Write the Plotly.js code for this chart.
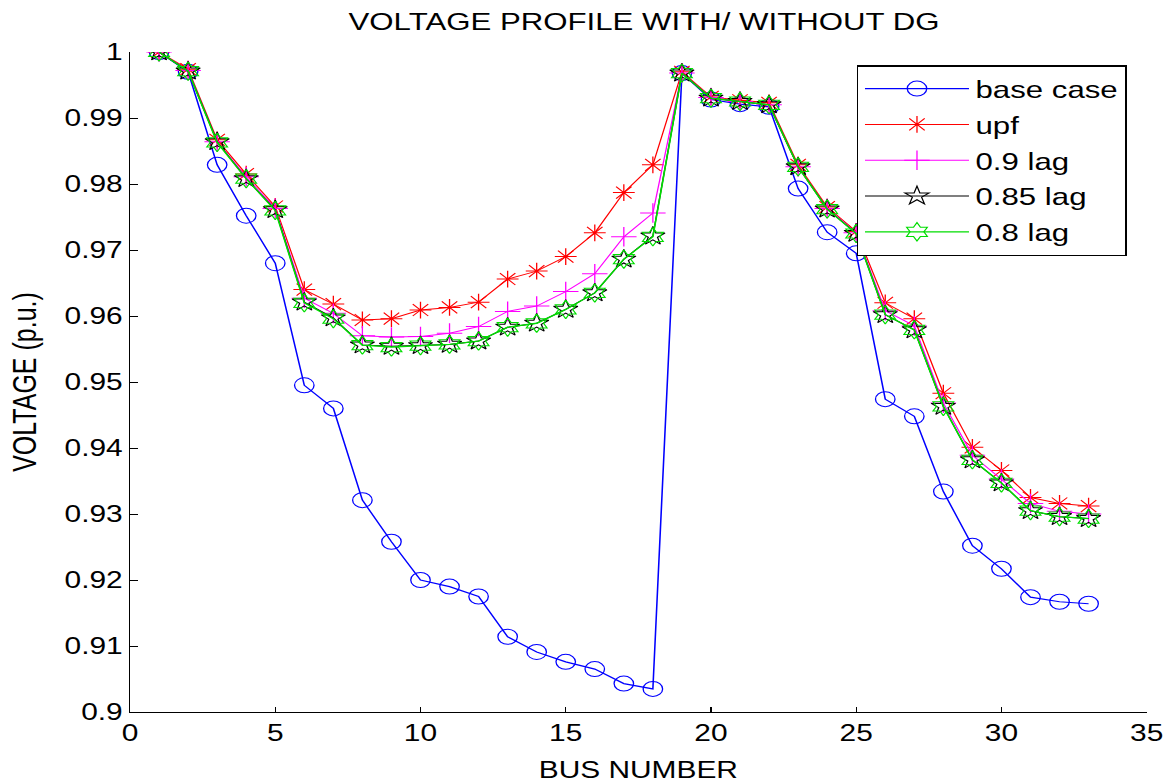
<!DOCTYPE html>
<html>
<head>
<meta charset="utf-8">
<script src="https://cdn.plot.ly/plotly-3.0.1.min.js"></script>
<style>
  html, body { margin: 0; padding: 0; background: #ffffff; overflow: hidden; }
  #wrap { width: 1174px; height: 784px; overflow: hidden; }
  #plot { width: 903px; height: 784px; transform: scaleX(1.3001); transform-origin: 0 0; }
</style>
</head>
<body>
<div id="wrap"><div id="plot"></div></div>
<script>
// ---- data ----
var busNumbers = [1,2,3,4,5,6,7,8,9,10,11,12,13,14,15,16,17,18,19,20,21,22,23,24,25,26,27,28,29,30,31,32,33];

var baseCase = [1.0000, 0.9970, 0.9829, 0.9752, 0.9680, 0.9495, 0.9460, 0.9321, 0.9258, 0.9200, 0.9190,
                0.9175, 0.9114, 0.9091, 0.9076, 0.9065, 0.9043, 0.9035, 0.9968, 0.9928, 0.9921, 0.9917,
                0.9793, 0.9727, 0.9695, 0.9474, 0.9448, 0.9334, 0.9252, 0.9217, 0.9174, 0.9167, 0.9164];

var upf = [1.0000, 0.9974, 0.9867, 0.9815, 0.9766, 0.9640, 0.9618, 0.9594, 0.9596, 0.9609, 0.9613,
           0.9621, 0.9656, 0.9668, 0.9690, 0.9726, 0.9787, 0.9829, 0.9970, 0.9932, 0.9927, 0.9923,
           0.9829, 0.9765, 0.9728, 0.9620, 0.9596, 0.9483, 0.9401, 0.9366, 0.9325, 0.9316, 0.9312];

var lag090 = [1.0000, 0.9972, 0.9864, 0.9811, 0.9763, 0.9627, 0.9604, 0.9570, 0.9568, 0.9569, 0.9574,
              0.9584, 0.9607, 0.9615, 0.9637, 0.9664, 0.9720, 0.9756, 0.9968, 0.9931, 0.9925, 0.9920,
              0.9826, 0.9763, 0.9726, 0.9608, 0.9585, 0.9468, 0.9389, 0.9353, 0.9316, 0.9304, 0.9300];

var lag085 = [1.0000, 0.9971, 0.9864, 0.9808, 0.9761, 0.9621, 0.9597, 0.9556, 0.9554, 0.9555, 0.9557,
              0.9562, 0.9583, 0.9589, 0.9610, 0.9635, 0.9686, 0.9721, 0.9968, 0.9930, 0.9925, 0.9920,
              0.9826, 0.9762, 0.9725, 0.9602, 0.9579, 0.9463, 0.9382, 0.9347, 0.9305, 0.9296, 0.9293];

var lag080 = [1.0000, 0.9971, 0.9863, 0.9808, 0.9760, 0.9620, 0.9596, 0.9556, 0.9553, 0.9555, 0.9557,
              0.9562, 0.9583, 0.9589, 0.9610, 0.9635, 0.9686, 0.9720, 0.9968, 0.9930, 0.9925, 0.9920,
              0.9826, 0.9762, 0.9725, 0.9602, 0.9579, 0.9463, 0.9382, 0.9347, 0.9305, 0.9296, 0.9293];

var seriesNames = ["base case", "upf", "0.9 lag", "0.85 lag", "0.8 lag"];

var xTickVals = [0, 5, 10, 15, 20, 25, 30, 35];
var yTickVals = [0.90, 0.91, 0.92, 0.93, 0.94, 0.95, 0.96, 0.97, 0.98, 0.99, 1.00];
var yTickText = ["0.9", "0.91", "0.92", "0.93", "0.94", "0.95", "0.96", "0.97", "0.98", "0.99", "1"];

var titleText = "VOLTAGE PROFILE WITH/ WITHOUT DG";
var xTitleText = "BUS NUMBER";
var yTitleText = "VOLTAGE (p.u.)";

// ---- traces ----
var FONT = "Liberation Sans, Arial, Helvetica, sans-serif";

function mk(y, name, color, symbol, size, lw) {
  return {
    x: busNumbers, y: y, name: name, legendgroup: name, type: "scatter", mode: "lines+markers",
    line: { color: color, width: lw },
    marker: { symbol: symbol, size: size, color: color, line: { color: color, width: 1 } }
  };
}

var traces = [
  mk(baseCase, seriesNames[0], "#0000ff", "circle-open", 15, 1.2),
  mk(upf,      seriesNames[1], "#ff0000", "asterisk-open", 14, 1),
  mk(lag090,   seriesNames[2], "#ff00ff", "cross-thin-open", 14, 1),
  mk(lag085,   seriesNames[3], "#000000", "star-open", 14, 1),
  mk(lag080,   seriesNames[4], "#00dd00", "hexagram-open", 14, 1.3)
];

var layout = {
  width: 903, height: 784,
  margin: { l: 100, r: 21, t: 52, b: 72, pad: 0 },
  paper_bgcolor: "#ffffff", plot_bgcolor: "#ffffff",
  font: { family: FONT, size: 23, color: "#000000" },
  title: { text: titleText, font: { family: FONT, size: 24, color: "#000" },
           xref: "container", x: 0.5486, xanchor: "center",
           yref: "container", y: 0.972, yanchor: "middle" },
  xaxis: {
    range: [0, 35], tickmode: "array", tickvals: xTickVals,
    ticks: "inside", ticklen: 5, tickwidth: 1, tickcolor: "#000",
    showline: true, linecolor: "#000", linewidth: 1, mirror: false,
    showgrid: false, zeroline: false,
    tickfont: { family: FONT, size: 23, color: "#000" },
    title: { text: xTitleText, font: { family: FONT, size: 23, color: "#000" }, standoff: 17 }
  },
  yaxis: {
    range: [0.9, 1.0], tickmode: "array", tickvals: yTickVals, ticktext: yTickText,
    ticks: "inside", ticklen: 6, tickwidth: 1, tickcolor: "#000",
    showline: true, linecolor: "#000", linewidth: 1, mirror: false,
    showgrid: false, zeroline: false,
    tickfont: { family: FONT, size: 23, color: "#000" },
    title: { text: yTitleText, font: { family: FONT, size: 25, color: "#000" }, standoff: 14 }
  },
  showlegend: true,
  legend: {
    x: 0.7146, y: 0.9803, xanchor: "left", yanchor: "top",
    bgcolor: "#ffffff", bordercolor: "#000000", borderwidth: 1.5,
    font: { family: FONT, size: 24, color: "#000" },
    itemwidth: 80, tracegroupgap: 1.6
  }
};

Plotly.newPlot("plot", traces, layout, { displayModeBar: false, staticPlot: true });
</script>
</body>
</html>
